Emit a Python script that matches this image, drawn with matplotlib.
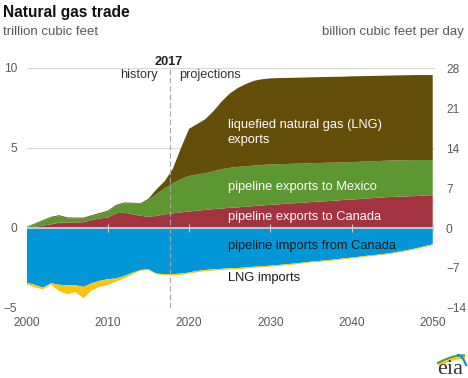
import numpy as np
import matplotlib
matplotlib.use("Agg")
import matplotlib.pyplot as plt

plt.rcParams['font.family'] = ['Liberation Sans', 'DejaVu Sans']

# trillion cubic feet, 2000-2050
years = np.arange(2000, 2051)

canada_exports = [0.02, 0.08, 0.15, 0.23, 0.33, 0.35, 0.35, 0.36, 0.50, 0.60,
                  0.65, 0.92, 0.96, 0.86, 0.76, 0.71, 0.75, 0.85, 0.92, 0.98,
                  1.03, 1.08, 1.13, 1.18, 1.22, 1.26, 1.29, 1.33, 1.37, 1.41,
                  1.45, 1.48, 1.52, 1.55, 1.58, 1.62, 1.65, 1.68, 1.71, 1.75,
                  1.78, 1.81, 1.85, 1.88, 1.92, 1.94, 1.96, 1.98, 2.00, 2.03,
                  2.05]
mexico_exports = [0.04, 0.17, 0.31, 0.42, 0.42, 0.25, 0.25, 0.24, 0.25, 0.28,
                  0.37, 0.46, 0.58, 0.68, 0.74, 1.04, 1.37, 1.63, 1.88, 2.07,
                  2.22, 2.27, 2.29, 2.37, 2.46, 2.50, 2.53, 2.53, 2.53, 2.53,
                  2.52, 2.51, 2.48, 2.47, 2.45, 2.43, 2.41, 2.40, 2.38, 2.35,
                  2.34, 2.33, 2.31, 2.30, 2.28, 2.28, 2.27, 2.26, 2.25, 2.22,
                  2.20]
lng_exports = [0.02, 0.03, 0.04, 0.05, 0.05, 0.06, 0.05, 0.05, 0.05, 0.06,
               0.06, 0.06, 0.05, 0.04, 0.04, 0.08, 0.30, 0.45, 0.90, 1.95,
               2.95, 3.15, 3.38, 3.75, 4.22, 4.64, 4.93, 5.14, 5.30, 5.36,
               5.38, 5.38, 5.38, 5.37, 5.37, 5.37, 5.37, 5.36, 5.36, 5.36,
               5.36, 5.35, 5.34, 5.33, 5.32, 5.31, 5.31, 5.31, 5.31, 5.31,
               5.31]
canada_imports = [3.42, 3.55, 3.72, 3.45, 3.55, 3.58, 3.58, 3.68, 3.45, 3.30,
                  3.20, 3.15, 3.00, 2.80, 2.62, 2.58, 2.85, 2.88, 2.88, 2.85,
                  2.78, 2.68, 2.62, 2.58, 2.55, 2.52, 2.50, 2.46, 2.42, 2.39,
                  2.35, 2.31, 2.26, 2.22, 2.16, 2.10, 2.06, 2.01, 1.96, 1.90,
                  1.85, 1.79, 1.73, 1.68, 1.62, 1.55, 1.46, 1.37, 1.26, 1.14,
                  1.02]
lng_imports = [0.10, 0.15, 0.12, 0.08, 0.40, 0.57, 0.42, 0.72, 0.45, 0.38,
               0.35, 0.20, 0.15, 0.10, 0.05, 0.05, 0.05, 0.06, 0.08, 0.08,
               0.08, 0.08, 0.08, 0.08, 0.08, 0.07, 0.07, 0.07, 0.07, 0.07,
               0.07, 0.07, 0.06, 0.06, 0.06, 0.06, 0.06, 0.06, 0.06, 0.06,
               0.05, 0.05, 0.05, 0.05, 0.05, 0.05, 0.05, 0.05, 0.05, 0.05,
               0.05]

left_ticks = [-5, 0, 5, 10]
right_ticks = [-14, -7, 0, 7, 14, 21, 28]
decades = [2000, 2010, 2020, 2030, 2040, 2050]

red = '#a33340'
green = '#5d9732'
brown = '#634e0a'
blue = '#0096d7'
yellow = '#ffc20e'
grey = '#595959'

W, H = 468, 378
fig = plt.figure(figsize=(W / 100, H / 100), dpi=100)


def fx(px):
    return px / W


def fy(py):
    return 1 - py / H


ax = fig.add_axes([fx(26.7), fy(308), (435 - 26.7) / W, 240 / H])
ax.set_xlim(2000, 2050.28)
ax.set_ylim(-5, 10)

for v in [10, 5, -5]:
    ax.axhline(v, color='#d9d9d9', lw=0.8, zorder=0)

ax.stackplot(years, canada_exports, mexico_exports, lng_exports,
             colors=[red, green, brown], lw=0, zorder=2)
ax.stackplot(years, -np.array(canada_imports), -np.array(lng_imports),
             colors=[blue, yellow], lw=0, zorder=2)

ax.axhline(0, color='#e4e4e4', lw=1.1, zorder=4)
ax.vlines(decades[1:], -0.28, 0.28, color='#d0d0d0', lw=0.8, zorder=4)
ax.axvline(2017.65, color='#a6a6a6', lw=0.8, dashes=(5, 2.5), zorder=5)

for s in ax.spines.values():
    s.set_visible(False)
ax.set_yticks(left_ticks)
ax.set_xticks(decades)
ax.tick_params(length=0, labelsize=8.6, labelcolor=grey)
ax.tick_params(axis='y', pad=6.8)
ax.tick_params(axis='x', pad=6.7)

ax2 = ax.twinx()
ax2.set_ylim(-14, 28)
ax2.set_yticks(right_ticks)
for s in ax2.spines.values():
    s.set_visible(False)
ax2.tick_params(length=0, labelsize=8.6, labelcolor=grey, pad=7.9)

# titles and units
fig.text(fx(3), fy(16.7), 'Natural gas trade', fontsize=11.2,
         fontweight='bold', color='#111111', va='baseline')
fig.text(fx(3.3), fy(34.7), 'trillion cubic feet', fontsize=9.5,
         color=grey, va='baseline')
fig.text(fx(464), fy(34.7), 'billion cubic feet per day', fontsize=9.5,
         color=grey, va='baseline', ha='right')

# history / projections
fig.text(fx(168.5), fy(65.3), '2017', fontsize=9.2, fontweight='bold',
         color='#222222', ha='center', va='baseline')
fig.text(fx(158), fy(78), 'history', fontsize=9.2, color='#333333',
         ha='right', va='baseline')
fig.text(fx(179), fy(78), 'projections', fontsize=9.2, color='#333333',
         ha='left', va='baseline')

# series labels
lab = dict(fontsize=9.3, va='baseline', ha='left')
fig.text(fx(228), fy(128.3), 'liquefied natural gas (LNG)', color='white', **lab)
fig.text(fx(228), fy(143.3), 'exports', color='white', **lab)
fig.text(fx(228), fy(190), 'pipeline exports to Mexico', color='white', **lab)
fig.text(fx(228), fy(220), 'pipeline exports to Canada', color='white', **lab)
fig.text(fx(228), fy(249.5), 'pipeline imports from Canada', color='#1a1a1a', **lab)
fig.text(fx(228), fy(281.5), 'LNG imports', color='#1a1a1a', **lab)

# eia logo
logo = fig.add_axes([fx(434), fy(376), 34 / W, 26 / H])
logo.set_xlim(0, 34)
logo.set_ylim(0, 26)
logo.axis('off')
t = np.linspace(0, 1, 30)
logo.plot(4 + 26 * t, 13 + 9 * np.sin(t * np.pi / 2) - 1.5 * t, color='#5d9732', lw=1.6)
logo.plot(6 + 24 * t, 11.5 + 7.5 * np.sin(t * np.pi / 2) - 1.0 * t, color='#ffc20e', lw=1.6)
logo.plot(24 + 8 * t, 21 - 10 * t ** 2, color='#0096d7', lw=1.6)
logo.text(16, 2, 'eia', family='Liberation Serif', fontsize=16,
          color='#333333', ha='center', va='baseline')

fig.savefig('out.png', dpi=100)
